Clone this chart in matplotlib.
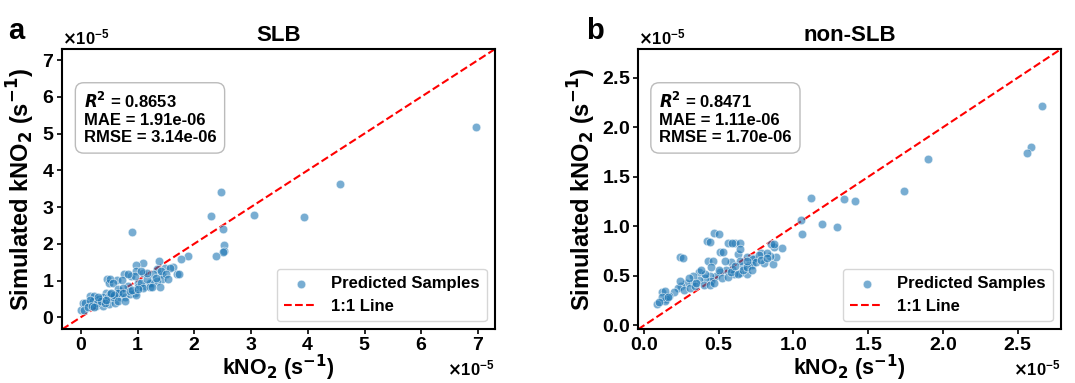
import matplotlib
matplotlib.use("Agg")
import matplotlib.pyplot as plt
import numpy as np
from matplotlib.ticker import MultipleLocator

plt.rcParams["font.family"] = ["Liberation Sans", "DejaVu Sans"]
plt.rcParams["font.weight"] = "bold"
plt.rcParams["mathtext.default"] = "bf"

# values in units of 1e-5 s^-1
slb_obs = [6.97, 4.56, 3.93, 3.05, 2.47, 2.30, 2.51, 2.53, 2.53, 2.51, 2.38, 1.89, 1.77,
           0.91, 1.63, 1.37, 1.48, 1.69, 1.73, 1.44, 1.43, 1.09, 0.97, 0.77, 0.64, 0.47,
           0.50, 0.88, 0.98, 1.09, 1.25, 1.14, 1.00, 1.00, 0.01, 0.04, 0.17,
           1.57, 1.35, 1.41, 1.28, 1.51, 0.95, 0.72, 0.52, 0.56, 1.53, 1.35, 1.22, 1.07,
           1.09, 1.22, 1.40, 0.95, 0.84, 0.70, 0.62, 0.54, 0.45, 0.40, 0.32, 0.23, 0.16,
           0.07, 0.06, 0.27, 0.40, 0.50, 0.60, 0.69, 0.78, 0.87, 0.98, 0.65, 0.75, 0.33,
           0.48, 0.56, 0.22, 0.16, 0.28, 0.36, 0.42, 0.13, 0.19, 0.24, 0.65, 0.75, 0.86,
           0.91, 1.01, 1.33, 1.16, 1.25, 0.51, 0.58, 0.45, 0.54, 0.30, 0.66, 0.78, 1.16,
           0.84, 1.07]
slb_sim = [5.19, 3.64, 2.72, 2.78, 3.41, 2.76, 2.41, 1.98, 1.80, 1.78, 1.66, 1.67, 1.58,
           2.32, 1.36, 1.53, 1.33, 1.19, 1.19, 1.17, 1.03, 1.48, 1.42, 1.18, 1.02, 1.05,
           0.94, 1.11, 1.26, 1.21, 0.92, 0.84, 0.94, 0.81, 0.20, 0.38, 0.57,
           1.33, 1.30, 1.26, 1.17, 1.17, 1.12, 1.02, 1.03, 0.92, 1.03, 0.98, 0.94, 0.94,
           0.80, 0.83, 0.83, 0.67, 0.85, 0.72, 0.61, 0.49, 0.65, 0.54, 0.45, 0.57, 0.36,
           0.39, 0.20, 0.31, 0.31, 0.37, 0.40, 0.54, 0.56, 0.63, 0.61, 0.76, 0.79, 0.49,
           0.54, 0.54, 0.45, 0.46, 0.40, 0.43, 0.38, 0.27, 0.31, 0.27, 0.65, 0.67, 0.72,
           0.74, 0.76, 1.07, 1.03, 0.81, 0.63, 0.61, 0.46, 0.67, 0.56, 0.45, 0.45, 1.21,
           1.19, 1.26]

non_obs = [2.665, 2.59, 2.56, 1.90, 1.74, 1.12, 1.34, 1.41, 1.05, 1.19, 1.29, 1.06,
           0.47, 0.42, 0.56, 0.61, 0.24, 0.51, 0.43, 0.09, 0.12, 0.15, 0.14,
           0.92, 0.87, 0.86, 0.80, 0.88, 0.84, 0.78, 0.73, 0.70, 0.69, 0.64, 0.60,
           0.85, 0.87, 0.50, 0.44, 0.59, 0.64, 0.53, 0.26, 0.46, 0.63, 0.69, 0.73,
           0.82, 0.77, 0.72, 0.66, 0.64, 0.58, 0.59, 0.55, 0.51, 0.48, 0.44, 0.45,
           0.41, 0.37, 0.37, 0.33, 0.32, 0.28, 0.25, 0.23, 0.20, 0.17, 0.14, 0.12,
           0.10, 0.16, 0.27, 0.31, 0.34, 0.40, 0.44, 0.47, 0.52, 0.56, 0.58, 0.63,
           0.66, 0.69, 0.72, 0.41, 0.38, 0.30, 0.24, 0.54, 0.61, 0.50, 0.45, 0.35,
           0.64, 0.69, 0.75, 0.78, 0.82]
non_sim = [2.21, 1.80, 1.74, 1.68, 1.36, 1.29, 1.28, 1.26, 1.06, 1.02, 0.99, 0.92,
           0.93, 0.85, 0.83, 0.83, 0.69, 0.74, 0.65, 0.22, 0.34, 0.27, 0.25,
           0.78, 0.79, 0.62, 0.63, 0.69, 0.70, 0.73, 0.68, 0.61, 0.52, 0.53, 0.52,
           0.82, 0.82, 0.92, 0.84, 0.83, 0.83, 0.74, 0.68, 0.65, 0.72, 0.69, 0.67,
           0.73, 0.71, 0.61, 0.60, 0.65, 0.64, 0.57, 0.56, 0.54, 0.50, 0.50, 0.45,
           0.48, 0.54, 0.46, 0.50, 0.43, 0.43, 0.40, 0.38, 0.34, 0.30, 0.35, 0.29,
           0.24, 0.29, 0.36, 0.38, 0.40, 0.41, 0.41, 0.43, 0.48, 0.49, 0.54, 0.52,
           0.56, 0.59, 0.56, 0.52, 0.56, 0.48, 0.45, 0.65, 0.60, 0.56, 0.59, 0.43,
           0.77, 0.65, 0.64, 0.66, 0.68]

panels = [
    dict(tag="a", title="SLB", obs=slb_obs, sim=slb_sim, lim=(-0.33, 7.30), step=1,
         r2="0.8653", mae="1.91e-06", rmse="3.14e-06"),
    dict(tag="b", title="non-SLB", obs=non_obs, sim=non_sim, lim=(-0.04, 2.79), step=0.5,
         r2="0.8471", mae="1.11e-06", rmse="1.70e-06"),
]

fig = plt.figure(figsize=(10.75, 3.83), dpi=100)
rects = [[0.0577, 0.14, 0.4028, 0.732], [0.5935, 0.14, 0.3935, 0.732]]

for p, rect, lx in zip(panels, rects, [0.008, 0.545]):
    ax = fig.add_axes(rect)
    x = np.array(p["obs"]) * 1e-5
    y = np.array(p["sim"]) * 1e-5
    lo, hi = p["lim"][0] * 1e-5, p["lim"][1] * 1e-5
    ax.scatter(x, y, s=38, color="#1f77b4", alpha=0.6, edgecolor="white",
               linewidth=0.6, label="Predicted Samples", zorder=3)
    ax.plot([lo, hi], [lo, hi], "--", color="red", lw=1.5, label="1:1 Line", zorder=2)
    ax.set_xlim(lo, hi)
    ax.set_ylim(lo, hi)
    ax.xaxis.set_major_locator(MultipleLocator(p["step"] * 1e-5))
    ax.yaxis.set_major_locator(MultipleLocator(p["step"] * 1e-5))
    ax.ticklabel_format(style="sci", scilimits=(0, 0), useMathText=True)
    ax.xaxis.get_offset_text().set_fontsize(12)
    ax.yaxis.get_offset_text().set_fontsize(12)
    ax.tick_params(labelsize=14, width=1.2, pad=2)
    for s in ax.spines.values():
        s.set_linewidth(1.5)
    ax.set_xlabel(r"kNO$_2$ (s$^{-1}$)", fontsize=15.5, fontweight="bold", labelpad=-1)
    ax.set_ylabel(r"Simulated kNO$_2$ (s$^{-1}$)", fontsize=17, fontweight="bold", labelpad=3)
    ax.set_title(p["title"], fontsize=16, fontweight="bold", pad=6)
    txt = (r"$\boldsymbol{R}^{\mathbf{2}}$ = " + p["r2"] + "\nMAE = " + p["mae"]
           + "\nRMSE = " + p["rmse"])
    ax.text(0.05, 0.85, txt, transform=ax.transAxes, fontsize=12, fontweight="bold",
            va="top", ha="left", linespacing=1.15,
            bbox=dict(boxstyle="round,pad=0.5", facecolor="white", edgecolor="#bbbbbb"))
    ax.legend(loc="lower right", prop=dict(weight="bold", size=12),
              borderpad=0.45, handlelength=2.0, labelspacing=0.45)
    fig.text(lx, 0.955, p["tag"], fontsize=21, fontweight="bold", va="top")

fig.savefig("out.png", dpi=100)
